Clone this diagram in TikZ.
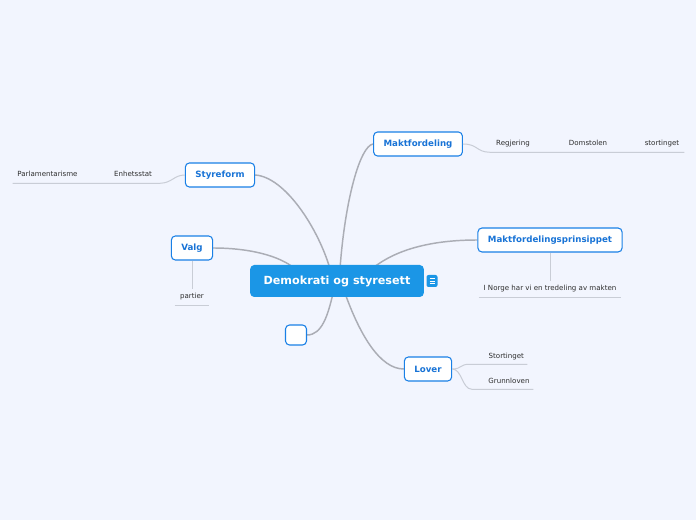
\documentclass[tikz,border=0pt]{standalone}
\usepackage{fontspec}
\setmainfont{DejaVu Sans}
\usetikzlibrary{positioning, calc, backgrounds}
\definecolor{bgfill}{HTML}{F2F5FE}
\definecolor{ctrfill}{HTML}{1B96E6}
\definecolor{topdraw}{HTML}{1A80E6}
\definecolor{toptext}{HTML}{1873D6}
\definecolor{branch}{HTML}{ABADB5}
\definecolor{twig}{HTML}{C9CDD6}
\definecolor{leaftext}{HTML}{2E2E2E}
\tikzset{
  ctr/.style={rectangle, rounded corners=3pt, fill=ctrfill, text=white, font=\fontsize{8.4}{10}\selectfont\bfseries, minimum width=129pt, minimum height=24pt, inner xsep=10pt},
  topic/.style={rectangle, rounded corners=3pt, draw=topdraw, line width=0.8pt, fill=white, text=toptext, font=\fontsize{6.5}{8}\selectfont\bfseries, minimum height=18pt, inner xsep=7.5pt},
  leaf/.style={rectangle, inner sep=0pt, minimum height=12pt, text height=3pt, text depth=0pt, text=leaftext, font=\fontsize{5.3}{6}\selectfont},
  notebox/.style={rectangle, rounded corners=1.5pt, fill=ctrfill, minimum width=8.25pt, minimum height=9pt, inner sep=0pt},
  br/.style={draw=branch, line width=1.1pt},
  tw/.style={draw=twig, line width=0.75pt},
}
\begin{document}
\begin{tikzpicture}[x=0.75pt, y=-0.75pt]
  \useasboundingbox (0,0) rectangle (696,520);
  \node[ctr] (demo) at (337,281) {Demokrati og styresett};
  \node[notebox] (note) at (432,281) {};
  \node[topic] (styre) at (220,175) {Styreform};
  \node[topic] (valg) at (192,248) {Valg};
  \node[topic] (makt) at (418,144) {Maktfordeling};
  \node[topic] (prins) at (550,240) {Maktfordelingsprinsippet};
  \node[topic] (lover) at (428,369) {Lover};
  \node[topic, minimum width=15.75pt, minimum height=15pt, inner sep=0pt] (tom) at (296,335) {};
  \node[leaf, minimum width=51.75pt] (parl) at (47.5,175) {Parlamentarisme};
  \node[leaf, minimum width=40.5pt] (enhet) at (133,175) {Enhetsstat};
  \node[leaf, minimum width=25.5pt] (parti) at (192,297) {partier};
  \node[leaf, minimum width=34.5pt] (regj) at (513,144) {Regjering};
  \node[leaf, minimum width=36pt] (doms) at (588,144) {Domstolen};
  \node[leaf, minimum width=33pt] (stort) at (662,144) {stortinget};
  \node[leaf, minimum width=106.5pt] (norge) at (550,289) {I Norge har vi en tredeling av makten};
  \node[leaf, minimum width=42.75pt, text width=38.25pt, align=right] (stting) at (498.5,356) {Stortinget};
  \node[leaf, minimum width=45.75pt, text width=40.5pt, align=right] (grunn) at (502.5,381) {Grunnloven};
  \foreach \dy in {-2.5,0,2.5}
    \draw[white, line width=0.6pt] ($(note.center)+(-2.5,\dy)$) -- ($(note.center)+(2.5,\dy)$);
  \begin{scope}[on background layer]
    \fill[bgfill] (0,0) rectangle (696,520);
    \draw[br] (styre.east) .. controls (285,177) and (318,228) .. ($(demo.north)+(-7,4)$);
    \draw[br] (valg.east) .. controls (250,248) and (280,256) .. ($(demo.north)+(-42,4)$);
    \draw[br] (makt.west) .. controls (360,146) and (345,200) .. ($(demo.north)+(3,4)$);
    \draw[br] (prins.west) .. controls (430,240) and (395,250) .. ($(demo.north)+(35,4)$);
    \draw[br] (lover.west) .. controls (380,369) and (360,335) .. ($(demo.south)+(8,-4)$);
    \draw[br] (tom.east) .. controls (322,335) and (328,315) .. ($(demo.south)+(-4,-4)$);
  \end{scope}
  \draw[tw] (styre.west) .. controls (174,175) and (172,183) .. (enhet.south east) -- (parl.south west);
  \draw[tw] (makt.east) .. controls (478,144) and (476,152) .. (regj.south west) -- (stort.south east);
  \draw[tw] (valg.south) -- (parti.north);
  \draw[tw] (parti.south west) -- (parti.south east);
  \draw[tw] (prins.south) -- (norge.north);
  \draw[tw] (norge.south west) -- (norge.south east);
  \draw[tw] (lover.east) .. controls (462,369) and (460,364) .. (stting.south west) -- (stting.south east);
  \draw[tw] (lover.east) .. controls (462,369) and (462,389) .. (grunn.south west) -- (grunn.south east);
\end{tikzpicture}
\end{document}
